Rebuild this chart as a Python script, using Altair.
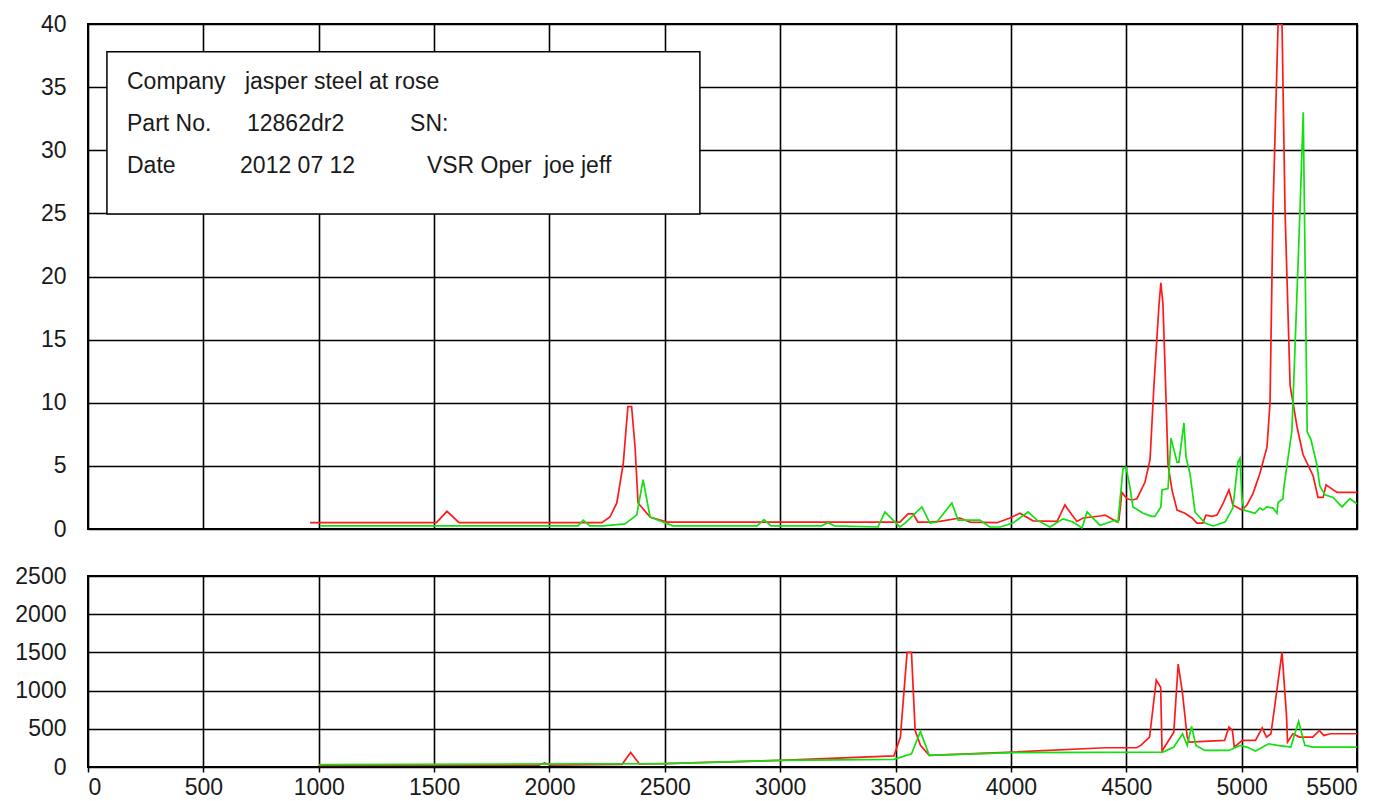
import altair as alt
import pandas as pd

# ---- top panel (amplitude) ----
top_red_hz = [962, 1510, 1556, 1608, 2227, 2262, 2292, 2320, 2340, 2356, 2371, 2384, 2436, 2509,
              3519, 3554, 3576, 3597, 3649, 3692, 3779, 3823, 3940, 3996, 4039, 4096, 4200, 4234,
              4265, 4286, 4313, 4386, 4408, 4438, 4460, 4468, 4481, 4503, 4525, 4546, 4581, 4603,
              4620, 4642, 4650, 4659, 4668, 4681, 4698, 4720, 4754, 4785, 4806, 4832, 4845, 4871,
              4893, 4919, 4945, 4962, 5001, 5023, 5049, 5079, 5110, 5123, 5136, 5158, 5175, 5188,
              5210, 5240, 5266, 5310, 5331, 5353, 5366, 5413, 5500]
top_red_val = [0.5, 0.5, 1.4, 0.5, 0.5, 0.95, 2.06, 5.2, 9.7, 9.7, 6.5, 2.06, 0.95, 0.55,
               0.55, 1.2, 1.2, 0.55, 0.55, 0.6, 0.87, 0.55, 0.5, 0.87, 1.25, 0.65, 0.6, 1.9,
               1.1, 0.6, 0.87, 1.03, 1.1, 0.8, 0.55, 0.7, 2.9, 2.4, 2.3, 2.4, 3.7, 5.5,
               11.4, 17.8, 19.5, 17.8, 12.8, 5.1, 3.1, 1.5, 1.25, 0.87, 0.47, 0.47, 1.1, 1.0,
               1.1, 2.0, 3.1, 1.9, 1.5, 1.9, 2.8, 4.4, 6.5, 10.0, 25.3, 40.0, 40.0, 25.3,
               11.4, 8.1, 5.9, 4.2, 2.5, 2.5, 3.5, 2.9, 2.9]

top_green_hz = [1005, 2124, 2146, 2175, 2233, 2327, 2378, 2406, 2436, 2492, 2535, 2900, 2930, 2960,
                3180, 3207, 3235, 3424, 3454, 3489, 3519, 3541, 3614, 3649, 3679, 3744, 3771, 3866,
                3874, 3909, 3953, 4009, 4074, 4113, 4169, 4226, 4269, 4308, 4330, 4364, 4386, 4417,
                4451, 4464, 4486, 4499, 4516, 4529, 4573, 4611, 4624, 4650, 4655, 4681, 4694, 4720,
                4728, 4750, 4759, 4776, 4798, 4841, 4876, 4928, 4962, 4984, 4993, 5001, 5010, 5058,
                5079, 5092, 5110, 5136, 5153, 5158, 5179, 5183, 5218, 5231, 5253, 5267, 5284, 5300,
                5326, 5339, 5361, 5396, 5435, 5469, 5500]
top_green_val = [0.25, 0.25, 0.7, 0.25, 0.25, 0.4, 1.1, 3.9, 0.95, 0.55, 0.25, 0.25, 0.75, 0.25,
                 0.25, 0.5, 0.25, 0.16, 1.35, 0.7, 0.16, 0.47, 1.75, 0.47, 0.55, 2.06, 0.7, 0.7,
                 0.6, 0.16, 0.16, 0.47, 1.35, 0.7, 0.16, 0.8, 0.55, 0.08, 1.35, 0.7, 0.3, 0.47,
                 0.7, 0.55, 4.8, 4.9, 3.3, 1.75, 1.25, 1.0, 1.0, 1.75, 3.1, 3.2, 7.2, 5.3,
                 5.3, 8.4, 5.7, 4.4, 1.35, 0.47, 0.24, 0.55, 1.66, 5.3, 5.6, 2.5, 1.5, 1.25,
                 1.66, 1.5, 1.75, 1.66, 1.25, 2.1, 2.4, 3.3, 7.8, 14.2, 25.3, 33.0, 7.7, 7.1,
                 5.1, 3.4, 2.7, 2.5, 1.75, 2.4, 2.0]

# ---- bottom panel ----
bot_red_hz = [1000, 1955, 1979, 2003, 2315, 2352, 2390, 2500, 2652, 3000, 3493, 3521, 3550, 3569,
              3585, 3608, 3646, 4009, 4410, 4544, 4563, 4601, 4630, 4649, 4655, 4706, 4725, 4744,
              4764, 4773, 4926, 4945, 4960, 4968, 5003, 5060, 5089, 5108, 5127, 5175, 5194, 5199,
              5222, 5251, 5308, 5337, 5356, 5385, 5500]
bot_red_val = [20, 25, 55, 25, 35, 190, 40, 45, 57, 87, 145, 391, 1500, 1500,
               478, 283, 152, 196, 252, 252, 283, 391, 1139, 1043, 209, 456, 1348, 956,
               391, 326, 348, 522, 478, 261, 348, 348, 513, 391, 435, 1500, 696, 326,
               435, 391, 391, 478, 413, 435, 435]

bot_green_hz = [1000, 2500, 3000, 3493, 3569, 3608, 3646, 4009, 4659, 4706, 4744, 4764, 4783, 4802,
                4840, 4945, 4993, 5022, 5060, 5117, 5155, 5213, 5247, 5274, 5308, 5500]
bot_green_val = [30, 45, 87, 100, 174, 465, 152, 187, 196, 261, 435, 283, 530, 283,
                 217, 217, 283, 261, 209, 304, 283, 261, 596, 283, 261, 261]

x_ticks = list(range(0, 5501, 500))
top_y_ticks = list(range(0, 41, 5))
bot_y_ticks = list(range(0, 2501, 500))

info_texts = ["Company", "jasper steel at rose", "Part No.", "12862dr2", "SN:",
              "Date", "2012 07 12", "VSR Oper", "joe jeff"]
info_x = [169, 680, 169, 689, 1396, 169, 659, 1469, 1976]
info_y = [35.4, 35.4, 32.1, 32.1, 32.1, 28.75, 28.75, 28.75, 28.75]
box_x = [82]
box_x2 = [2652]
box_y = [24.95]
box_y2 = [37.8]

RED = "#ff1a1a"
GREEN = "#11e011"
FONT = "Liberation Sans"

top_df = pd.concat([
    pd.DataFrame({"hz": top_red_hz, "v": top_red_val, "s": "red"}),
    pd.DataFrame({"hz": top_green_hz, "v": top_green_val, "s": "green"}),
])
bot_df = pd.concat([
    pd.DataFrame({"hz": bot_red_hz, "v": bot_red_val, "s": "red"}),
    pd.DataFrame({"hz": bot_green_hz, "v": bot_green_val, "s": "green"}),
])
text_df = pd.DataFrame({"t": info_texts, "x": info_x, "y": info_y})
box_df = pd.DataFrame({"x": box_x, "x2": box_x2, "y": box_y, "y2": box_y2})

color = alt.Color("s:N", scale=alt.Scale(domain=["red", "green"], range=[RED, GREEN]), legend=None)

x_top = alt.X("hz:Q", scale=alt.Scale(domain=[0, 5500], nice=False),
              axis=alt.Axis(values=x_ticks, labels=False, ticks=False, domain=False, title=None))
y_top = alt.Y("v:Q", scale=alt.Scale(domain=[0, 40], nice=False),
              axis=alt.Axis(values=top_y_ticks, title=None, format="d"))

top_lines = alt.Chart(top_df).mark_line(strokeWidth=1.7, clip=True).encode(
    x=x_top, y=y_top, color=color, detail="s:N")

box = alt.Chart(box_df).mark_rect(fill="white", stroke="black", strokeWidth=1.5).encode(
    x=alt.X("x:Q", scale=alt.Scale(domain=[0, 5500], nice=False)), x2="x2:Q",
    y=alt.Y("y:Q", scale=alt.Scale(domain=[0, 40], nice=False)), y2="y2:Q")

texts = alt.Chart(text_df).mark_text(align="left", baseline="middle", font=FONT,
                                     fontSize=23, color="#1a1a1a").encode(
    x=alt.X("x:Q", scale=alt.Scale(domain=[0, 5500], nice=False)),
    y=alt.Y("y:Q", scale=alt.Scale(domain=[0, 40], nice=False)),
    text="t:N")

top = alt.layer(top_lines, box, texts).properties(width=1269, height=505)

x_bot = alt.X("hz:Q", scale=alt.Scale(domain=[0, 5500], nice=False),
              axis=alt.Axis(values=x_ticks, title=None, ticks=True, tickSize=5, domain=False,
                            tickColor="black", tickWidth=1.5, labelPadding=4, format="d"))
y_bot = alt.Y("v:Q", scale=alt.Scale(domain=[0, 2500], nice=False),
              axis=alt.Axis(values=bot_y_ticks, title=None, format="d"))

bottom = alt.Chart(bot_df).mark_line(strokeWidth=1.7, clip=True).encode(
    x=x_bot, y=y_bot, color=color, detail="s:N").properties(width=1269, height=191)

chart = alt.vconcat(top, bottom, spacing=22).resolve_scale(x="independent", y="independent").configure(
    padding={"left": 5, "top": 4, "right": 5, "bottom": 0},
    font=FONT,
).configure_view(
    stroke="black", strokeWidth=2
).configure_axis(
    grid=True, gridColor="black", gridWidth=1.6, gridOpacity=1,
    labelFont=FONT, labelFontSize=23, labelColor="#1a1a1a",
    domain=False,
).configure_axisY(
    ticks=False, labelPadding=22
)

chart.save("out.html", embed_options={"renderer": "svg", "actions": False})
